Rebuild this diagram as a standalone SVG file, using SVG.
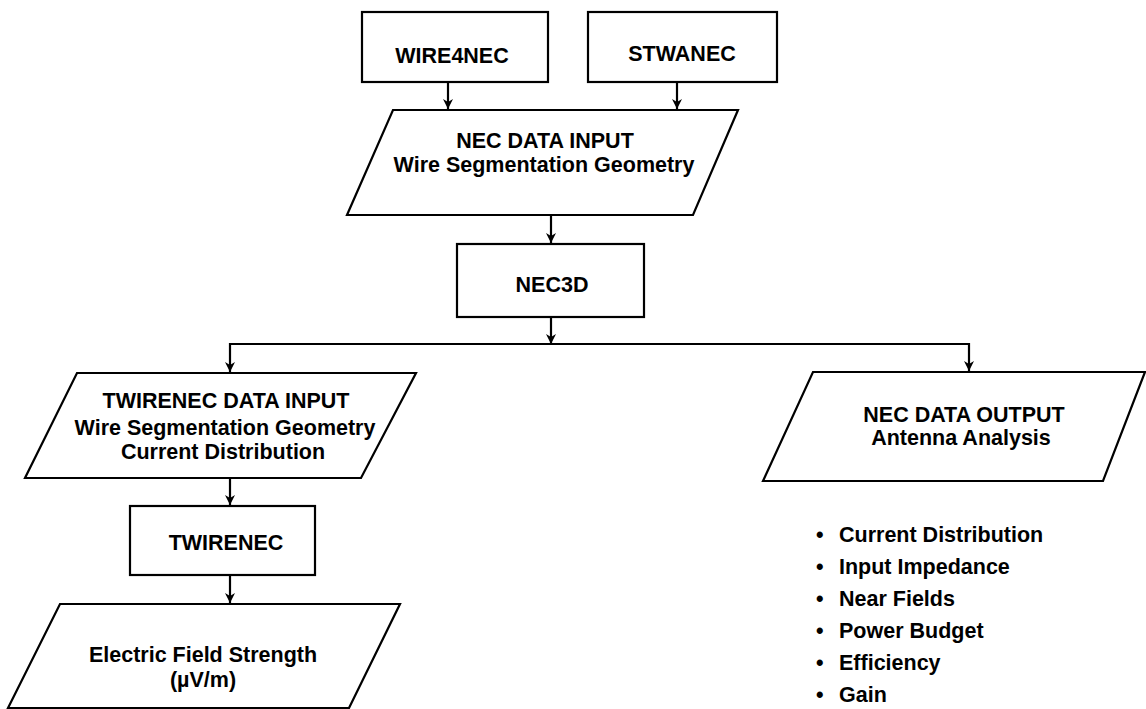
<svg xmlns="http://www.w3.org/2000/svg" width="1146" height="709" viewBox="0 0 1146 709">
  <style>
    .shape { fill: #ffffff; stroke: #000000; stroke-width: 2.2; }
    .conn { fill: none; stroke: #000000; stroke-width: 2.2; }
    .lbl { font-family: "Liberation Sans", Arial, Helvetica, sans-serif; font-weight: bold; font-size: 21.5px; fill: #000000; text-anchor: middle; }
    .item { font-family: "Liberation Sans", Arial, Helvetica, sans-serif; font-weight: bold; font-size: 21.5px; fill: #000000; }
  </style>
  <defs>
    <marker id="arrow" viewBox="0 0 10 12" refX="10" refY="6" markerWidth="11" markerHeight="12" markerUnits="userSpaceOnUse" orient="auto">
      <path d="M0,1 L10,6 L0,11 L3,6 Z" fill="#000000"/>
    </marker>
  </defs>
  <rect width="1146" height="709" fill="#ffffff"/>

  <g id="connectors">
    <line class="conn" x1="448" y1="82" x2="448" y2="109" marker-end="url(#arrow)"/>
    <line class="conn" x1="677" y1="82" x2="677" y2="109" marker-end="url(#arrow)"/>
    <line class="conn" x1="551" y1="215" x2="551" y2="243" marker-end="url(#arrow)"/>
    <line class="conn" x1="551" y1="317" x2="551" y2="344" marker-end="url(#arrow)"/>
    <polyline class="conn" points="551,344 230,344 230,372" marker-end="url(#arrow)"/>
    <polyline class="conn" points="551,344 969,344 969,371" marker-end="url(#arrow)"/>
    <line class="conn" x1="230" y1="478" x2="230" y2="505" marker-end="url(#arrow)"/>
    <line class="conn" x1="230" y1="575" x2="230" y2="603" marker-end="url(#arrow)"/>
  </g>

  <g id="wire4nec">
    <rect class="shape" x="362" y="12" width="186" height="70"/>
    <text class="lbl" x="452" y="63">WIRE4NEC</text>
  </g>

  <g id="stwanec">
    <rect class="shape" x="588" y="12" width="189" height="70"/>
    <text class="lbl" x="682" y="61">STWANEC</text>
  </g>

  <g id="nec-data-input">
    <polygon class="shape" points="393,110 738,110 693,215 347,215"/>
    <text class="lbl" x="545" y="148">NEC DATA INPUT</text>
    <text class="lbl" x="544" y="172">Wire Segmentation Geometry</text>
  </g>

  <g id="nec3d">
    <rect class="shape" x="457" y="244" width="187" height="73"/>
    <text class="lbl" x="552" y="292">NEC3D</text>
  </g>

  <g id="twirenec-data-input">
    <polygon class="shape" points="77,373 416,373 361,478 25,478"/>
    <text class="lbl" x="226" y="408">TWIRENEC DATA INPUT</text>
    <text class="lbl" x="225" y="435">Wire Segmentation Geometry</text>
    <text class="lbl" x="223" y="459">Current Distribution</text>
  </g>

  <g id="twirenec">
    <rect class="shape" x="130" y="506" width="185" height="69"/>
    <text class="lbl" x="226" y="550">TWIRENEC</text>
  </g>

  <g id="electric-field">
    <polygon class="shape" points="60,604 400,604 349,708 8,708"/>
    <text class="lbl" x="203" y="662">Electric Field Strength</text>
    <text class="lbl" x="203" y="687">(µV/m)</text>
  </g>

  <g id="nec-data-output">
    <polygon class="shape" points="813,372 1145,372 1103,481 763,481"/>
    <text class="lbl" x="964" y="422">NEC DATA OUTPUT</text>
    <text class="lbl" x="961" y="445">Antenna Analysis</text>
  </g>

  <g id="output-list">
    <text class="item"><tspan x="816" y="542">•</tspan><tspan x="839" y="542">Current Distribution</tspan></text>
    <text class="item"><tspan x="816" y="574">•</tspan><tspan x="839" y="574">Input Impedance</tspan></text>
    <text class="item"><tspan x="816" y="606">•</tspan><tspan x="839" y="606">Near Fields</tspan></text>
    <text class="item"><tspan x="816" y="638">•</tspan><tspan x="839" y="638">Power Budget</tspan></text>
    <text class="item"><tspan x="816" y="670">•</tspan><tspan x="839" y="670">Efficiency</tspan></text>
    <text class="item"><tspan x="816" y="702">•</tspan><tspan x="839" y="702">Gain</tspan></text>
  </g>
</svg>
